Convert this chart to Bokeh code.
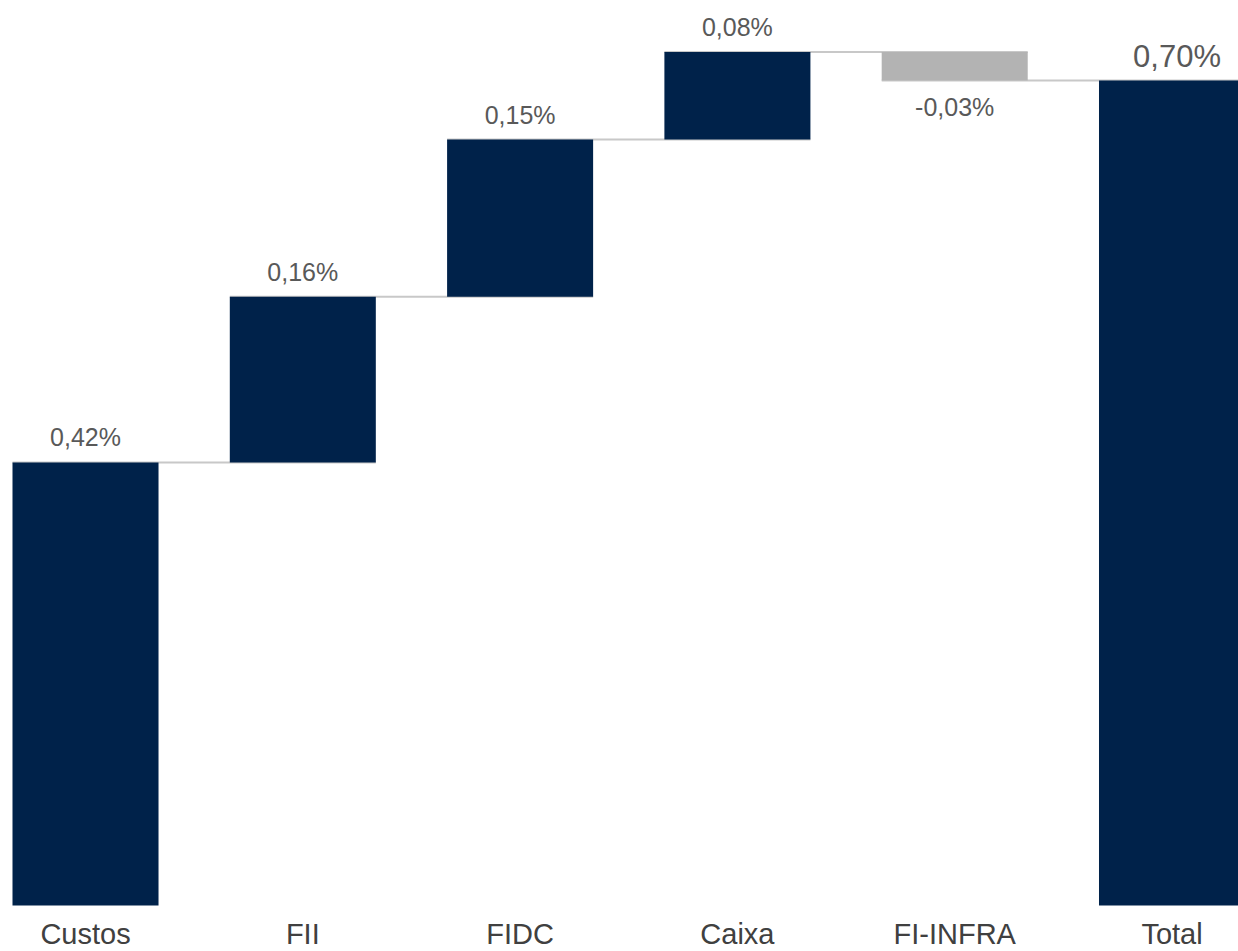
from bokeh.plotting import figure
from bokeh.models import ColumnDataSource, Range1d
from bokeh.core.properties import value
from bokeh.embed import file_html
from bokeh.resources import INLINE

categories = ["Custos", "FII", "FIDC", "Caixa", "FI-INFRA", "Total"]
increments = [0.42, 0.157, 0.149, 0.083, -0.027]
labels = ["0,42%", "0,16%", "0,15%", "0,08%", "-0,03%", "0,70%"]

NAVY = "#00224A"
GREY_BAR = "#B3B3B3"
LINE = "#C8C8C8"
LABEL = "#595959"
CAT = "#404040"
FONT = "Liberation Sans"

# waterfall geometry from data
bottoms, tops, colors = [], [], []
run = 0.0
for v in increments:
    start, end = run, run + v
    bottoms.append(min(start, end))
    tops.append(max(start, end))
    colors.append(NAVY if v >= 0 else GREY_BAR)
    run = end
total = run
bottoms.append(0.0)
tops.append(total)
colors.append(NAVY)

xs = list(range(len(categories)))
bw = 0.672

p = figure(width=1238, height=951, output_backend="svg", toolbar_location=None,
           x_range=Range1d(-0.3912, 5.306), y_range=Range1d(-0.0436, 0.8578),
           min_border=0)
p.axis.visible = False
p.grid.visible = False
p.outline_line_color = None
p.background_fill_color = "white"
p.border_fill_color = "white"

# connector lines
ends = []
run = 0.0
for v in increments:
    run += v
    ends.append(run)
cx0 = [xs[i] - bw / 2 for i in range(len(ends))]
cx1 = [xs[i + 1] + bw / 2 for i in range(len(ends))]
p.segment(x0=cx0, y0=ends, x1=cx1, y1=ends, line_color=LINE, line_width=2)

src = ColumnDataSource(dict(x=xs, bottom=bottoms, top=tops, color=colors))
p.vbar(x="x", bottom="bottom", top="top", width=bw, fill_color="color",
       line_color=None, source=src)

# data labels
pos_x, pos_y, pos_t = [], [], []
neg_x, neg_y, neg_t = [], [], []
for i, v in enumerate(increments):
    if v >= 0:
        pos_x.append(xs[i]); pos_y.append(tops[i]); pos_t.append(labels[i])
    else:
        neg_x.append(xs[i]); neg_y.append(bottoms[i]); neg_t.append(labels[i])
p.text(x=pos_x, y=pos_y, text=pos_t, text_align="center", text_baseline="middle",
       y_offset=-25, text_font=value(FONT), text_font_size="25px", text_color=LABEL)
p.text(x=neg_x, y=neg_y, text=neg_t, text_align="center", text_baseline="middle",
       y_offset=27, text_font=value(FONT), text_font_size="25px", text_color=LABEL)
p.text(x=[xs[-1]], y=[tops[-1]], text=[labels[-1]], text_align="center",
       text_baseline="middle", y_offset=-24, x_offset=5, text_font=value(FONT),
       text_font_size="31px", text_color=LABEL)

# category labels
p.text(x=xs, y=[0.0] * len(xs), text=categories, text_align="center",
       text_baseline="middle", y_offset=28, text_font=value(FONT),
       text_font_size="29px", text_color=CAT)

open("out.html", "w").write(file_html(p, INLINE))
